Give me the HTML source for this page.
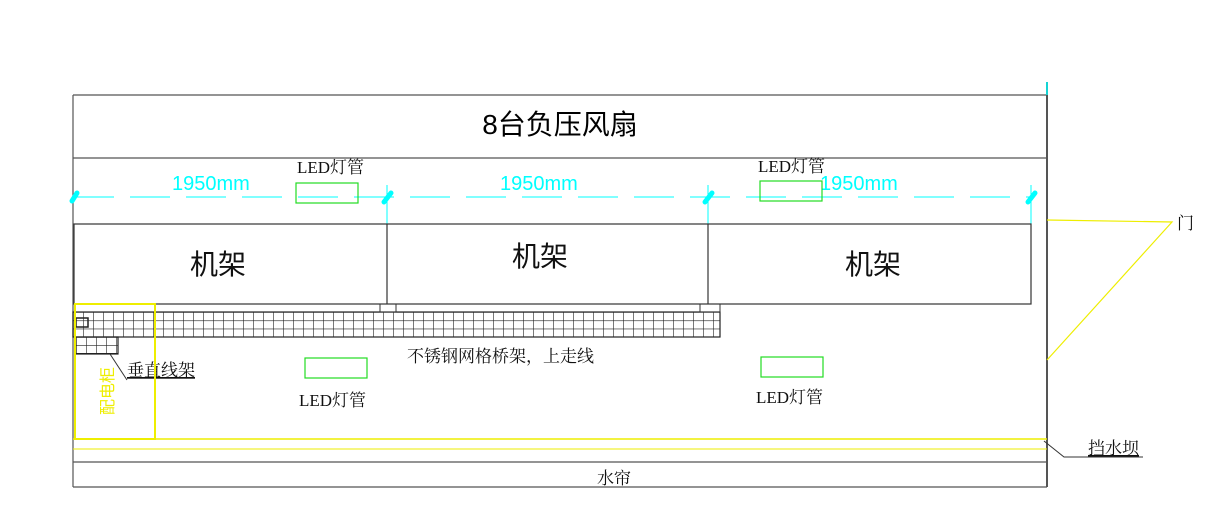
<!DOCTYPE html>
<html><head><meta charset="utf-8"><style>
html,body{margin:0;padding:0;background:#fff;}
svg{display:block}
.sf{font-family:"Liberation Serif","Noto Serif CJK SC","Noto Sans CJK SC",serif;}
.ss{font-family:"Liberation Sans","Noto Sans CJK SC",sans-serif;}
</style></head><body>
<svg width="1224" height="515" viewBox="0 0 1224 515" xmlns="http://www.w3.org/2000/svg">
<defs>
<pattern id="g" x="73" y="312" width="10" height="8.33" patternUnits="userSpaceOnUse">
<path d="M0 0H10M0 0V8.33" stroke="#222" stroke-width="1.2" fill="none"/>
</pattern>
<pattern id="g2" x="76" y="337" width="10" height="8" patternUnits="userSpaceOnUse">
<path d="M0 0H10M0 0V8" stroke="#222" stroke-width="1.2" fill="none"/>
</pattern>
</defs>
<g stroke="#555" stroke-width="1.2" fill="none">
<line x1="73" y1="95" x2="1047" y2="95"/>
<line x1="73" y1="158" x2="1047" y2="158"/>
<line x1="73" y1="95" x2="73" y2="487"/>
<line x1="1047" y1="82" x2="1047" y2="487" stroke-width="2"/>
<line x1="73" y1="462" x2="1047" y2="462"/>
<line x1="73" y1="487" x2="1047" y2="487"/>
</g>
<line x1="1047" y1="82" x2="1047" y2="95" stroke="#0ff" stroke-width="1.5"/>
<text class="ss" x="560" y="134" font-size="28" text-anchor="middle">8台负压风扇</text>
<line x1="74" y1="197" x2="1031" y2="197" stroke="#0ff" stroke-width="1" stroke-dasharray="40,16"/>
<g stroke="#0ff" stroke-width="5" stroke-linecap="round">
<line x1="72" y1="201" x2="77" y2="193"/><line x1="384" y1="202" x2="391" y2="193"/>
<line x1="705" y1="202" x2="712" y2="193"/><line x1="1028" y1="202" x2="1035" y2="193"/>
</g>
<g stroke="#0ff" stroke-width="1">
<line x1="387" y1="185" x2="387" y2="224"/><line x1="708" y1="185" x2="708" y2="224"/><line x1="1031" y1="185" x2="1031" y2="224"/>
</g>
<g fill="#0ff" font-size="20" class="ss">
<text class="ss" x="172" y="190">1950mm</text><text class="ss" x="500" y="190">1950mm</text><text class="ss" x="820" y="190">1950mm</text>
</g>
<g fill="none" stroke="#2d2" stroke-width="1.2">
<rect x="296" y="183" width="62" height="20"/><rect x="760" y="181" width="62" height="20"/>
<rect x="305" y="358" width="62" height="20"/><rect x="761" y="357" width="62" height="20"/>
</g>
<g font-size="17" fill="#111" class="sf">
<text x="297" y="173">LED灯管</text><text x="758" y="172">LED灯管</text>
<text x="299" y="406">LED灯管</text><text x="756" y="403">LED灯管</text>
<text x="407" y="362">不锈钢网格桥架，上走线</text>
<text x="127" y="376" text-decoration="underline">垂直线架</text>
<text x="1088" y="454" text-decoration="underline">挡水坝</text>
<text x="1177" y="229">门</text>
<text x="597" y="484">水帘</text>
</g>
<g stroke="#333" stroke-width="1.2" fill="none">
<rect x="74" y="224" width="957" height="80"/>
<line x1="387" y1="224" x2="387" y2="304"/><line x1="708" y1="224" x2="708" y2="304"/>
</g>
<g font-size="28" fill="#111">
<text class="ss" x="190" y="274">机架</text><text class="ss" x="512" y="266">机架</text><text class="ss" x="845" y="274">机架</text>
</g>
<rect x="73" y="312" width="647" height="25" fill="url(#g)" stroke="#222" stroke-width="1.2"/>
<rect x="380" y="304" width="16" height="8" fill="none" stroke="#333"/>
<rect x="700" y="304" width="20" height="8" fill="none" stroke="#333"/>
<rect x="76" y="337" width="42" height="17" fill="url(#g2)" stroke="#222" stroke-width="1.2"/>
<rect x="76" y="318" width="12" height="9" fill="none" stroke="#222" stroke-width="1.5"/>
<path d="M110 354 L127 380" stroke="#333" fill="none"/>
<rect x="75" y="304" width="80" height="135" fill="none" stroke="#ee0" stroke-width="2"/>
<text class="ss" x="0" y="0" font-size="16" fill="#ee0" transform="translate(113,415) rotate(-90)">配电柜</text>
<line x1="73" y1="439" x2="1047" y2="439" stroke="#ee0" stroke-width="1.5"/>
<line x1="73" y1="449" x2="1047" y2="449" stroke="#ee0" stroke-width="1"/>
<path d="M1047 220 L1172 222 L1047 360" stroke="#ee0" fill="none" stroke-width="1.2"/>
<path d="M1044 441 L1064 457 L1143 457" stroke="#333" fill="none"/>
</svg>
</body></html>
